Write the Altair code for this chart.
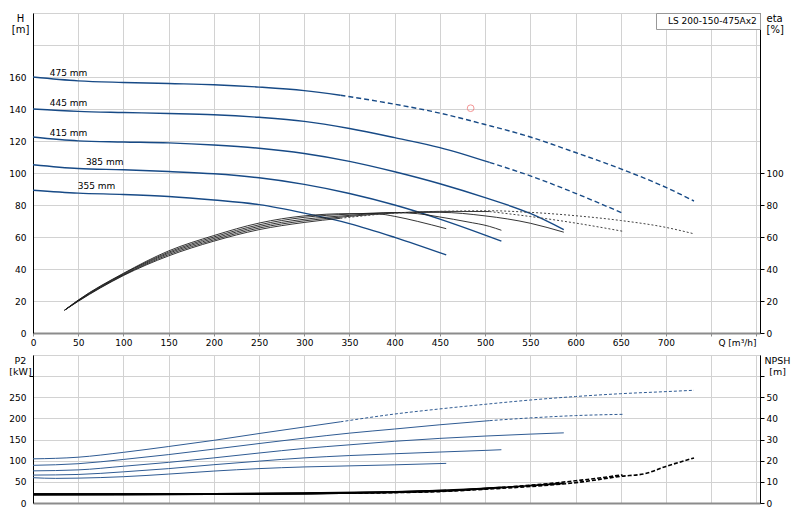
import altair as alt
import pandas as pd

# ---------------- data ----------------
# Head H [m]
Q_H_475 = [0, 50, 100, 150, 200, 250, 300, 340]
H_475 = [160, 157.6, 156.6, 155.9, 155.2, 153.7, 151.5, 148.6]
Q_H_475_ext = [340, 400, 450, 500, 550, 600, 650, 700, 731]
H_475_ext = [148.6, 143.0, 137.4, 130.3, 122.5, 112.8, 102.6, 91.0, 82.5]
Q_H_445 = [0, 50, 100, 150, 200, 250, 300, 350, 400, 450, 505]
H_445 = [140, 138.5, 137.8, 137.2, 136.4, 134.8, 132.3, 127.8, 122.1, 115.9, 106.6]
Q_H_445_ext = [505, 550, 600, 652]
H_445_ext = [106.6, 98.2, 87.3, 74.9]
Q_H_415 = [0, 50, 100, 150, 200, 250, 300, 350, 400, 450, 500, 550, 587]
H_415 = [122.5, 120.1, 119.4, 118.8, 117.5, 115.5, 112.2, 107.3, 100.8, 93.3, 84.6, 74.7, 64.6]
Q_H_385 = [0, 50, 100, 150, 200, 250, 300, 350, 400, 450, 500, 518]
H_385 = [105.2, 102.8, 102.0, 100.9, 99.5, 97.0, 92.9, 87.2, 80.0, 71.2, 61.2, 57.4]
Q_H_355 = [0, 50, 100, 150, 200, 250, 300, 350, 400, 457]
H_355 = [89.2, 87.4, 86.6, 85.3, 83.1, 80.2, 74.9, 68.4, 59.8, 48.8]

# Curve labels
LBL_TEXT = ["475 mm", "445 mm", "415 mm", "385 mm", "355 mm"]
LBL_Q = [18.5, 18.5, 18.5, 58.5, 49.5]
LBL_H = [162.7, 143.6, 125.1, 107.0, 91.9]

# Duty point
DUTY_Q = [484]
DUTY_H = [140.5]
DUTY_NAME = ["LS 200-150-475Ax2"]

# Efficiency eta [%]
Q_E_475 = [35, 50, 100, 150, 200, 250, 300, 340]
E_475 = [14.3, 19.8, 35.9, 48.2, 57.4, 64.6, 69.1, 71.7]
Q_E_475_ext = [340, 400, 450, 505, 550, 600, 650, 700, 731]
E_475_ext = [71.7, 74.9, 76.0, 76.4, 75.4, 73.3, 70.3, 66.0, 62.0]
Q_E_445 = [35, 50, 100, 150, 200, 250, 300, 350, 400, 450, 505]
E_445 = [14.3, 20.0, 36.2, 49.0, 58.2, 65.6, 70.1, 72.9, 75.0, 76.0, 75.9]
Q_E_445_ext = [505, 550, 600, 652]
E_445_ext = [75.9, 72.8, 68.7, 63.6]
Q_E_415 = [35, 50, 100, 150, 200, 250, 300, 350, 400, 450, 500, 550, 587]
E_415 = [14.3, 20.2, 36.6, 49.8, 59.1, 66.6, 71.1, 73.5, 75.3, 75.4, 73.2, 68.6, 63.0]
Q_E_385 = [35, 50, 100, 150, 200, 250, 300, 350, 400, 425, 450, 480, 505, 518]
E_385 = [14.3, 20.4, 37.0, 50.5, 60.0, 67.6, 72.3, 74.3, 75.2, 74.6, 72.5, 69.5, 66.6, 64.2]
Q_E_355 = [35, 50, 100, 150, 200, 250, 300, 350, 380, 400, 425, 457]
E_355 = [14.3, 20.6, 37.3, 51.3, 60.9, 68.7, 73.2, 74.6, 74.5, 72.9, 69.8, 65.2]

# Shaft power P2 [kW]
Q_P_475 = [0, 50, 100, 150, 200, 250, 300, 340]
P_475 = [104.4, 108.3, 119.8, 133.6, 148.2, 164.3, 179.7, 192.0]
Q_P_475_ext = [340, 400, 450, 500, 550, 600, 650, 700, 731]
P_475_ext = [192.0, 210.4, 222.5, 233.4, 243.5, 251.8, 258.5, 263.4, 266.6]
Q_P_445 = [0, 50, 100, 150, 200, 250, 300, 350, 400, 450, 505]
P_445 = [89.1, 92.9, 103.0, 114.5, 127.4, 140.6, 153.4, 165.2, 175.0, 185.0, 194.8]
Q_P_445_ext = [505, 550, 600, 652]
P_445_ext = [194.8, 201.2, 206.7, 209.7]
Q_P_415 = [0, 50, 100, 150, 200, 250, 300, 350, 400, 450, 500, 550, 587]
P_415 = [76.0, 78.3, 86.9, 96.1, 106.7, 118.2, 129.0, 137.6, 146.0, 152.8, 158.3, 162.9, 165.9]
Q_P_385 = [0, 50, 100, 150, 200, 250, 300, 350, 400, 450, 500, 518]
P_385 = [66.0, 67.5, 73.7, 81.3, 90.6, 99.0, 106.7, 112.2, 116.5, 120.5, 124.4, 126.0]
Q_P_355 = [0, 25, 50, 100, 150, 200, 250, 300, 350, 400, 457]
P_355 = [59.8, 58.2, 58.8, 62.2, 68.4, 75.5, 81.3, 85.3, 87.8, 90.3, 93.7]

# NPSH [m]
Q_N_475 = [0, 100, 200, 300, 340]
N_475 = [4.1, 4.1, 4.2, 4.4, 4.6]
Q_N_475_ext = [340, 400, 450, 500, 550, 600, 650, 677, 700, 731]
N_475_ext = [4.6, 4.9, 5.4, 6.5, 7.8, 9.6, 12.6, 13.9, 17.3, 21.3]
Q_N_445 = [0, 100, 200, 300, 400, 450, 505]
N_445 = [4.1, 4.1, 4.2, 4.4, 5.0, 5.6, 7.0]
Q_N_445_ext = [505, 550, 600, 652]
N_445_ext = [7.0, 8.4, 10.5, 13.3]
Q_N_415 = [0, 100, 200, 300, 400, 450, 500, 550, 587]
N_415 = [4.1, 4.1, 4.25, 4.5, 5.1, 5.7, 6.8, 8.2, 9.3]
Q_N_385 = [0, 100, 200, 300, 400, 450, 500, 518]
N_385 = [4.1, 4.15, 4.3, 4.6, 5.2, 5.9, 6.9, 7.4]
Q_N_355 = [0, 100, 200, 300, 400, 457]
N_355 = [4.1, 4.2, 4.35, 4.7, 5.3, 6.0]

X_TICKS = list(range(0, 801, 50))


def frame(pairs):
    parts = []
    for name, qs, vs in pairs:
        parts.append(pd.DataFrame({"Q": qs, "v": vs, "d": name}))
    return pd.concat(parts, ignore_index=True)


h_solid = frame([("475", Q_H_475, H_475), ("445", Q_H_445, H_445), ("415", Q_H_415, H_415),
                 ("385", Q_H_385, H_385), ("355", Q_H_355, H_355)])
h_dash = frame([("475", Q_H_475_ext, H_475_ext), ("445", Q_H_445_ext, H_445_ext)])
e_solid = frame([("475", Q_E_475, E_475), ("445", Q_E_445, E_445), ("415", Q_E_415, E_415),
                 ("385", Q_E_385, E_385), ("355", Q_E_355, E_355)])
e_dash = frame([("475", Q_E_475_ext, E_475_ext), ("445", Q_E_445_ext, E_445_ext)])
p_solid = frame([("475", Q_P_475, P_475), ("445", Q_P_445, P_445), ("415", Q_P_415, P_415),
                 ("385", Q_P_385, P_385), ("355", Q_P_355, P_355)])
p_dash = frame([("475", Q_P_475_ext, P_475_ext), ("445", Q_P_445_ext, P_445_ext)])
n_solid = frame([("475", Q_N_475, N_475), ("445", Q_N_445, N_445), ("415", Q_N_415, N_415),
                 ("385", Q_N_385, N_385), ("355", Q_N_355, N_355)])
n_dash = frame([("475", Q_N_475_ext, N_475_ext), ("445", Q_N_445_ext, N_445_ext)])
labels = pd.DataFrame({"Q": LBL_Q, "v": LBL_H, "t": LBL_TEXT})
duty = pd.DataFrame({"Q": DUTY_Q, "v": DUTY_H, "name": DUTY_NAME})

# ---------------- layout ----------------
W = 727
H1 = 320
H2 = 148
BLUE = "#174a86"
PBLUE = "#2f5b93"
GRID = "#d2d2d2"
AXG = "#8c8c8c"

xscale = alt.Scale(domain=[0, 804], nice=False, zero=False)

ax_x_top = alt.Axis(values=X_TICKS, labelExpr="datum.value > 700 ? '' : datum.label",
                    grid=True, domainColor=AXG, domainWidth=2, tickColor=AXG, tickSize=3,
                    labelPadding=2, labelFlush=False, title="Q [m³/h]", titleX=W - 4, titleY=5,
                    titleAlign="right", titleBaseline="top", titleAngle=0, titleFontSize=9)
ax_x_bot = alt.Axis(values=X_TICKS, labels=False, ticks=False, grid=True,
                    domainColor=AXG, domainWidth=2, title=None)

ax_H = alt.Axis(orient="left", values=list(range(0, 201, 20)),
                labelExpr="datum.value > 160 ? '' : datum.label", grid=True, ticks=False,
                domainColor="#000", labelPadding=7, title=["H", "[m]"], titleX=-13, titleY=0,
                titleAlign="center", titleBaseline="top", titleAngle=0, titleLineHeight=11)
ax_E = alt.Axis(orient="right", values=list(range(0, 101, 20)), grid=False,
                domainColor="#000", tickColor="#000", tickSize=4, labelPadding=2,
                title=["eta", "[%]"], titleX=6, titleY=0, titleAlign="left",
                titleBaseline="top", titleAngle=0, titleLineHeight=11)
ax_P = alt.Axis(orient="left", values=list(range(0, 351, 50)),
                labelExpr="datum.value > 250 ? '' : datum.label", grid=True, tickSize=4,
                tickColor={"condition": {"test": "datum.value === 300", "value": "#000"},
                           "value": "transparent"},
                domainColor="#000", labelPadding=3, title=["P2", "[kW]"], titleX=-13, titleY=0,
                titleAlign="center", titleBaseline="top", titleAngle=0, titleLineHeight=11,
                titleFontSize=9.5)
ax_N = alt.Axis(orient="right", values=list(range(0, 61, 10)),
                labelExpr="datum.value > 50 ? '' : datum.label", grid=False,
                domainColor="#000", tickColor="#000", tickSize=4, labelPadding=2,
                title=["NPSH", "[m]"], titleX=17, titleY=0, titleAlign="center",
                titleBaseline="top", titleAngle=0, titleLineHeight=11, titleFontSize=9.5)

yH = alt.Y("v:Q", scale=alt.Scale(domain=[0, 200], nice=False), axis=ax_H)
yE = alt.Y("v:Q", scale=alt.Scale(domain=[0, 200], nice=False), axis=ax_E)
yP = alt.Y("v:Q", scale=alt.Scale(domain=[0, 350], nice=False), axis=ax_P)
yN = alt.Y("v:Q", scale=alt.Scale(domain=[0, 70], nice=False), axis=ax_N)
xT = alt.X("Q:Q", scale=xscale, axis=ax_x_top)
xB = alt.X("Q:Q", scale=xscale, axis=ax_x_bot)


def lines(df, x, y, color, width, dash=None):
    kw = dict(color=color, strokeWidth=width, interpolate="monotone")
    if dash:
        kw["strokeDash"] = dash
    return alt.Chart(df).mark_line(**kw).encode(x=x, y=y, detail="d:N")


text_layer = alt.Chart(labels).mark_text(align="left", baseline="middle", fontSize=9,
                                         color="#000").encode(x=xT, y=yH, text="t:N")
duty_layer = alt.Chart(duty).mark_point(shape="circle", filled=False, size=45,
                                        strokeWidth=1).encode(
    x=xT, y=yH,
    color=alt.Color("name:N", scale=alt.Scale(range=["#f06a6a"]),
                    legend=alt.Legend(title=None, orient="top-right", offset=0, padding=3,
                                      strokeColor="#999", fillColor="white",
                                      labelFontSize=9, labelColor="#000", symbolSize=0,
                                      symbolStrokeWidth=0, symbolOpacity=0, labelOffset=0,
                                      cornerRadius=0)))

head_group = alt.layer(
    lines(h_solid, xT, yH, BLUE, 1.4),
    lines(h_dash, xT, yH, BLUE, 1.4, [5, 3]),
    text_layer,
    duty_layer,
)
eta_group = alt.layer(
    lines(e_solid, xT, yE, "#1e1e1e", 0.9),
    lines(e_dash, xT, yE, "#444444", 1.0, [2, 2]),
)
top = alt.layer(head_group, eta_group).resolve_scale(y="independent").properties(
    width=W, height=H1)

power_group = alt.layer(
    lines(p_solid, xB, yP, PBLUE, 1.0),
    lines(p_dash, xB, yP, PBLUE, 1.0, [3, 2]),
)
npsh_group = alt.layer(
    lines(n_solid, xB, yN, "#000", 1.6),
    lines(n_dash, xB, yN, "#000", 1.6, [4, 2]),
)
bottom = alt.layer(power_group, npsh_group).resolve_scale(y="independent").properties(
    width=W, height=H2)

chart = alt.vconcat(top, bottom, spacing=2).properties(
    padding={"left": 0, "top": 0, "right": 0, "bottom": 0}
).configure(font="DejaVu Sans").configure_view(stroke="#999", strokeWidth=1).configure_axis(
    labelFontSize=9, labelColor="#000", titleFontSize=10, titleFontWeight="normal",
    titleColor="#000", gridColor=GRID, gridWidth=1, labelOverlap=False
)

chart.save("out.html", embed_options={"renderer": "svg", "actions": False})
